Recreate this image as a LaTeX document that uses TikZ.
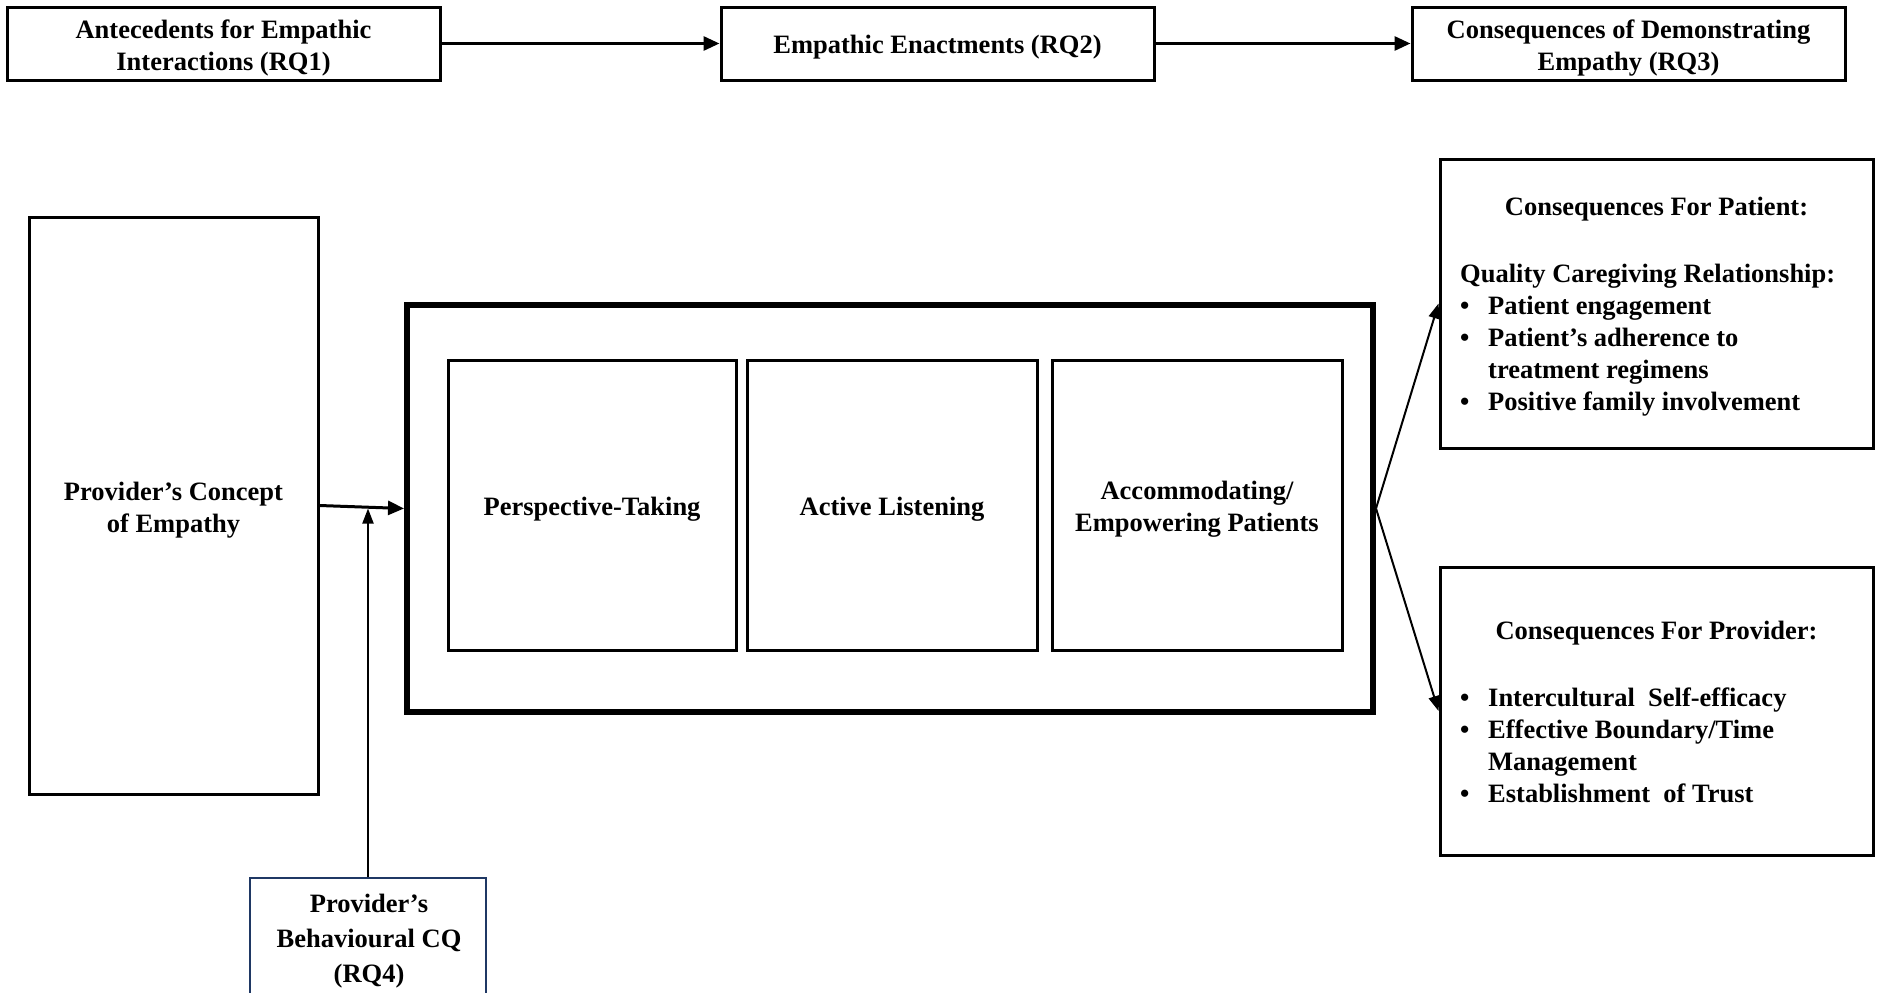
\documentclass[tikz,border=0pt]{standalone}
\usepackage{fontspec}
\setmainfont{Liberation Serif}
\usetikzlibrary{arrows.meta}
\definecolor{navyline}{HTML}{1F3864}
% extra head room on the first line of a multi-line label
\newcommand\firstlinelift{\rule{0pt}{27pt}}
\newcommand\bulletitem{\makebox[28pt][l]{•}}

\begin{document}
\begin{tikzpicture}[x=1pt,y=-1pt,
  txt/.style={font=\bfseries\fontsize{26.5}{32}\selectfont, align=center, inner sep=0pt},
  box/.style={draw, line width=3pt, inner sep=0pt, txt, execute at begin node={\rule{0pt}{26pt}}},
  frame/.style={draw, line width=6pt, inner sep=0pt},
  thinbox/.style={draw=navyline, line width=2pt, inner sep=0pt},
  flow/.style={line width=3pt, -{Triangle[length=16pt,width=14pt]}},
  link/.style={line width=2pt, -{Triangle[length=15pt,width=11pt]}},
  lst/.style={font=\bfseries\fontsize{26.5}{32}\selectfont, align=left, inner sep=0pt, anchor=base west}]
\useasboundingbox (0,0) rectangle (1877,993);
\fill[white] (0,0) rectangle (1877,993);

% research-question header row
\node[box, minimum width=433pt, minimum height=73pt] (rq1) at (223.5,43.5)
  {\fontsize{26.5}{31}\selectfont\firstlinelift Antecedents for Empathic\\Interactions (RQ1)};
\node[box, minimum width=433pt, minimum height=73pt] (rq2) at (937.5,43.5)
  {Empathic Enactments (RQ2)};
\node[box, minimum width=433pt, minimum height=73pt] (rq3) at (1628.5,43.5)
  {\fontsize{26.5}{31}\selectfont\firstlinelift Consequences of Demonstrating\\Empathy (RQ3)};
\draw[flow] (rq1.east) -- (rq2.west);
\draw[flow] (rq2.east) -- (rq3.west);

% antecedent
\node[box, minimum width=289pt, minimum height=577pt] (concept) at (173.5,505.5)
  {\firstlinelift Provider’s Concept\\of Empathy};

% enactments frame and its three components
\node[frame, minimum width=966pt, minimum height=407pt] (enact) at (890,508.5) {};
\node[box, minimum width=288pt, minimum height=290pt] (persp) at (592,505) {Perspective-Taking};
\node[box, minimum width=290pt, minimum height=290pt] (listen) at (892,505) {Active Listening};
\node[box, minimum width=290pt, minimum height=290pt] (accom) at (1197,505)
  {\firstlinelift Accommodating/\\Empowering Patients};

% moderator
\node[thinbox, minimum width=236pt, minimum height=140pt, anchor=north] (cq) at (368,877) {};
\node[txt, font=\bfseries\fontsize{26.5}{35}\selectfont, anchor=north] (cqtext) at (369,894)
  {Provider’s\\Behavioural CQ\\(RQ4)};

\draw[flow] (concept.east) -- (enact.west);
\draw[link] (cq.north) -- (cq.north |- enact.west);

% consequences
\node[box, minimum width=433pt, minimum height=289pt] (patient) at (1656.5,303.5) {};
\node[box, minimum width=433pt, minimum height=288pt] (provider) at (1656.5,711) {};

\node[txt] (pattitle) at (1656.5,209) {Consequences For Patient:};
\node[lst] (patlist) at (1460,410)
  {Quality Caregiving Relationship:\\
   \bulletitem Patient engagement\\
   \bulletitem Patient’s adherence to\\
   \hspace*{28pt}treatment regimens\\
   \bulletitem Positive family involvement};

\node[txt] (provtitle) at (1656.5,633) {Consequences For Provider:};
\node[lst] (provlist) at (1460,802)
  {\bulletitem Intercultural\ \ Self-efficacy\\
   \bulletitem Effective Boundary/Time\\
   \hspace*{28pt}Management\\
   \bulletitem Establishment\ \ of Trust};

\draw[link] (enact.east) -- (patient.west);
\draw[link] (enact.east) -- (provider.west);
\end{tikzpicture}
\end{document}
